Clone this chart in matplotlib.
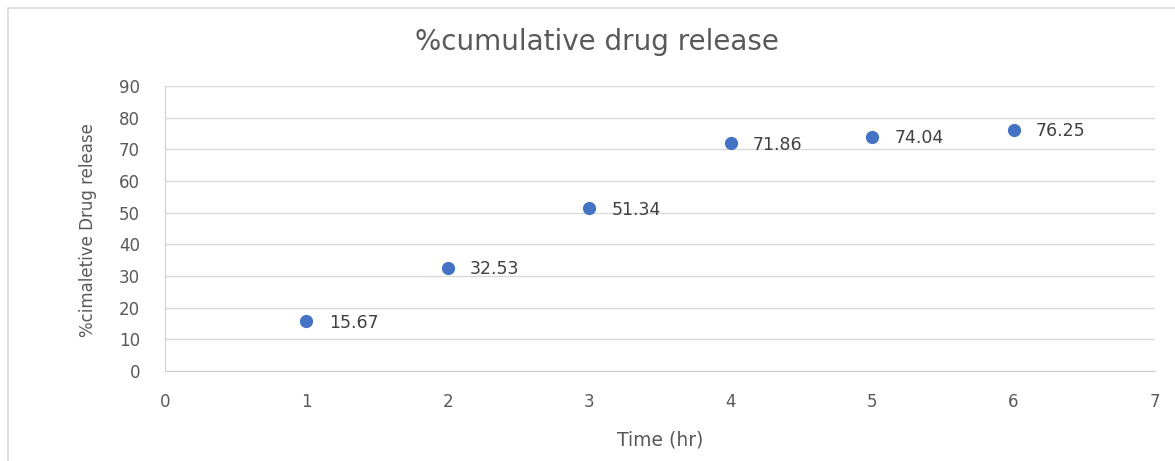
import matplotlib.pyplot as plt
from matplotlib.patches import Rectangle

# data
time_hr = [1, 2, 3, 4, 5, 6]
release = [15.67, 32.53, 51.34, 71.86, 74.04, 76.25]
x_ticks = [0, 1, 2, 3, 4, 5, 6, 7]
y_ticks = [0, 10, 20, 30, 40, 50, 60, 70, 80, 90]

plt.rcParams["font.family"] = ["DejaVu Sans"]
grey = "#595959"

fig = plt.figure(figsize=(11.75, 4.61), dpi=100)
ax = fig.add_axes([165 / 1175, 1 - 371 / 461, 990 / 1175, 285 / 461])

# outer chart frame (cropped on the right and bottom)
fig.patches.append(Rectangle((8 / 1175, -0.05), 1.1, 1.05 - 8 / 461,
                             transform=fig.transFigure, fill=False,
                             edgecolor="#d9d9d9", linewidth=1.2))

ax.plot(time_hr, release, "o", color="#4472C4", markersize=8.5, zorder=3)
for x, y in zip(time_hr, release):
    ax.annotate(f"{y:.2f}", (x, y), xytext=(16, -1), textcoords="offset points",
                va="center", ha="left", fontsize=12.5, color="#404040")

ax.set_xlim(0, 7)
ax.set_ylim(0, 90)
ax.set_xticks(x_ticks)
ax.set_yticks(y_ticks)
ax.grid(axis="y", color="#d9d9d9", linewidth=1)
ax.set_axisbelow(True)
for s in ["top", "right"]:
    ax.spines[s].set_visible(False)
for s in ["left", "bottom"]:
    ax.spines[s].set_color("#d0d0d0")
ax.tick_params(length=0, colors=grey, labelsize=12)
ax.tick_params(axis="x", pad=16)
ax.tick_params(axis="y", pad=18)

fig.text(597 / 1175, 1 - 42 / 461, "%cumulative drug release", ha="center",
         va="center", fontsize=20, color=grey)
fig.text(660 / 1175, 1 - 440 / 461, "Time (hr)", ha="center", va="center",
         fontsize=13.5, color=grey)
fig.text(88 / 1175, 1 - 230 / 461, "%cimaletive Drug release", ha="center",
         va="center", rotation=90, fontsize=12, color=grey,
         family=["Liberation Sans Narrow", "DejaVu Sans"])

fig.savefig("out.png", dpi=100)
